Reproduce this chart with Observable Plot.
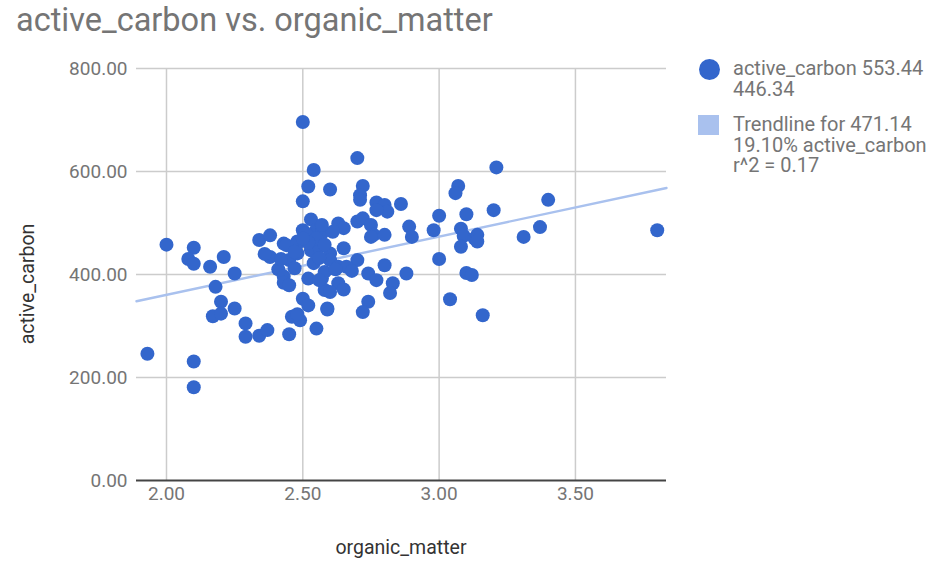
<!DOCTYPE html>
<html>
<head>
<meta charset="utf-8">
<script src="https://cdn.jsdelivr.net/npm/d3@7"></script>
<script src="https://cdn.jsdelivr.net/npm/@observablehq/plot@0.6"></script>
<style>
  html, body { margin: 0; padding: 0; background: #fff; }
  #wrap { position: relative; width: 932px; height: 561px; font-family: Roboto, "Noto Sans", Arial, sans-serif; }
  #chart { position: absolute; left: 0; top: 0; }
  .title { position: absolute; left: 16px; top: 1px; font-size: 32.5px; color: #757575; white-space: nowrap; }
  .axtitle { position: absolute; font-size: 19.5px; color: #333; white-space: nowrap; }
  .leg { position: absolute; font-size: 20px; color: #757575; line-height: 20.5px; white-space: nowrap; }
  .mk { position: absolute; }
</style>
</head>
<body>
<div id="wrap">
  <div id="chart"></div>
</div>
<script>
// ---- data ----
const chartTitle = "active_carbon vs. organic_matter";
const xTitle = "organic_matter";
const yTitle = "active_carbon";

const organicMatter = [
  1.93, 2.00, 2.10, 2.08, 2.10, 2.10, 2.10, 2.16, 2.18, 2.21,
  2.25, 2.20, 2.25, 2.17, 2.20, 2.29, 2.29, 2.34, 2.37, 2.45,
  2.34, 2.38, 2.43, 2.48, 2.38, 2.36, 2.45, 2.48, 2.41, 2.47,
  2.43, 2.43, 2.45, 2.46, 2.49, 2.48, 2.50, 2.52, 2.55, 2.59,
  2.50, 2.54, 2.52, 2.60, 2.50, 2.53, 2.50, 2.55, 2.57, 2.53,
  2.54, 2.52, 2.57, 2.58, 2.58, 2.56, 2.63, 2.60, 2.65, 2.59,
  2.70, 2.72, 2.71, 2.71, 2.77, 2.80, 2.81, 2.86, 2.77, 2.63,
  2.65, 2.61, 2.70, 2.72, 2.75, 2.76, 2.80, 2.75, 2.56, 2.65,
  2.60, 2.60, 2.63, 2.70, 2.66, 2.68, 2.80, 2.74, 2.77, 2.83,
  2.82, 2.88, 2.74, 2.72, 2.89, 2.90, 2.98, 3.00, 3.07, 3.06,
  3.10, 3.08, 3.09, 3.08, 3.13, 3.14, 3.14, 3.00, 3.10, 3.12,
  3.04, 3.16, 3.21, 3.20, 3.31, 3.37, 3.40, 3.80, 2.44, 2.48,
  2.51, 2.57, 2.55, 2.58, 2.52, 2.50, 2.47, 2.42, 2.56, 2.62
];
const activeCarbon = [
  246, 458, 452, 430, 421, 231, 181, 415, 376, 434,
  402, 347, 334, 319, 324, 305, 279, 281, 292, 284,
  467, 476, 460, 464, 434, 440, 428, 441, 410, 412,
  396, 384, 379, 318, 311, 323, 353, 340, 295, 332,
  696, 603, 571, 565, 542, 507, 486, 487, 480, 447,
  422, 392, 392, 370, 405, 389, 383, 366, 371, 334,
  626, 572, 554, 545, 540, 535, 522, 537, 525, 499,
  490, 483, 503, 509, 496, 477, 477, 473, 454, 451,
  441, 428, 415, 428, 415, 407, 418, 402, 389, 383,
  364, 402, 347, 327, 493, 473, 486, 514, 572, 558,
  517, 489, 475, 454, 470, 477, 464, 430, 403, 399,
  352, 321, 608, 525, 473, 492, 545, 486, 457, 460,
  480, 496, 470, 458, 462, 470, 444, 430, 432, 410
];

// trendline end points as read at the plot's left and right edges
const trendX = [1.890, 3.834];
const trendY = [348, 568];

const xTicks = [2.0, 2.5, 3.0, 3.5];
const yTicks = [0, 200, 400, 600, 800];

const legendSeries = ["active_carbon 553.44", "446.34"];
const legendTrend = ["Trendline for 471.14", "19.10% active_carbon", "r^2 = 0.17"];

// ---- build ----
const points = organicMatter.map((x, i) => ({x, y: activeCarbon[i]}));
const trend = trendX.map((x, i) => ({x, y: trendY[i]}));
const fmt = d => d.toFixed(2);

const chart = Plot.plot({
  width: 932,
  height: 561,
  marginLeft: 136,
  marginRight: 266,
  marginTop: 68,
  marginBottom: 81,
  style: {fontFamily: "Roboto, 'Noto Sans', sans-serif", fontSize: "19px", color: "#757575", background: "transparent"},
  x: {domain: [1.890, 3.834], label: null},
  y: {domain: [0, 800], label: null},
  marks: [
    Plot.gridX(xTicks, {stroke: "#cccccc", strokeOpacity: 1, strokeWidth: 1.5}),
    Plot.gridY(yTicks.filter(d => d > 0), {stroke: "#cccccc", strokeOpacity: 1, strokeWidth: 1.5}),
    Plot.axisX(xTicks, {tickSize: 0, tickPadding: 6, tickFormat: fmt, label: null, fill: "#757575"}),
    Plot.axisY(yTicks, {tickSize: 0, tickPadding: 9, tickFormat: fmt, label: null, fill: "#757575"}),
    Plot.line(trend, {x: "x", y: "y", stroke: "#a9c1ee", strokeWidth: 2.4}),
    Plot.ruleY([0], {stroke: "#444", strokeWidth: 2}),
    Plot.dot(points, {x: "x", y: "y", r: 7, fill: "#3366cc", stroke: null})
  ]
});
document.getElementById("chart").appendChild(chart);

const wrap = document.getElementById("wrap");
function add(cls, text, css) {
  const d = document.createElement("div");
  d.className = cls;
  if (text != null) d.textContent = text;
  Object.assign(d.style, css);
  wrap.appendChild(d);
  return d;
}
add("title", chartTitle, {});
add("axtitle", xTitle, {left: "401px", top: "536px", transform: "translateX(-50%)"});
add("axtitle", yTitle, {left: "27px", top: "284px", transform: "translate(-50%,-50%) rotate(-90deg)"});

// legend markers
add("mk", null, {left: "699px", top: "58.5px", width: "21px", height: "21px", borderRadius: "50%", background: "#3366cc"});
add("mk", null, {left: "698px", top: "115px", width: "21px", height: "20px", background: "#a9c1ee"});
// legend text
add("leg", legendSeries.join("\n"), {left: "733px", top: "58px", whiteSpace: "pre"});
add("leg", legendTrend.join("\n"), {left: "733px", top: "114px", whiteSpace: "pre"});
</script>
</body>
</html>
